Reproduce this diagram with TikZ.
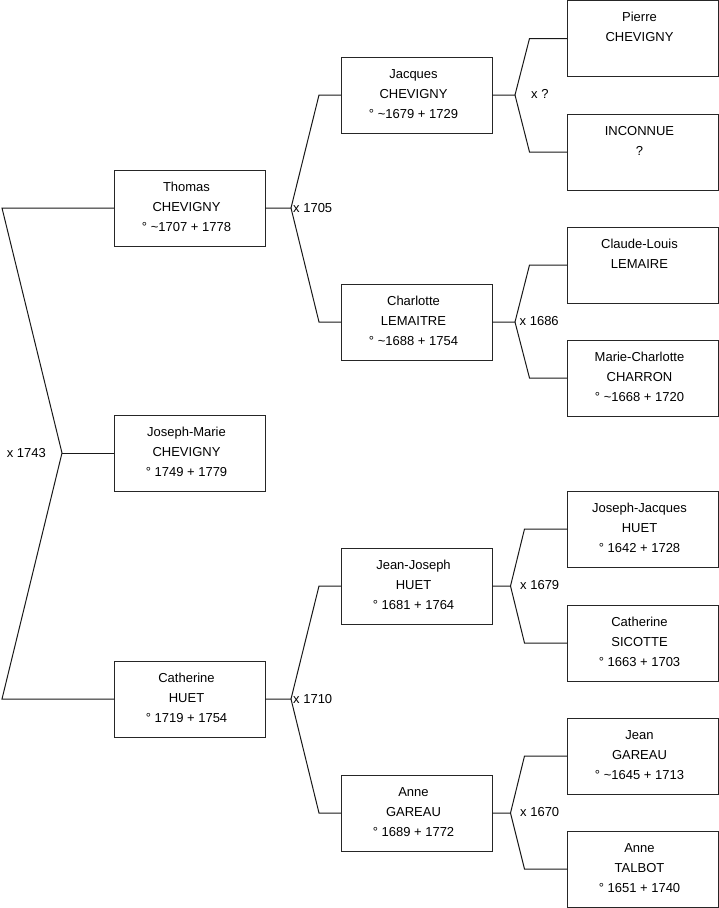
\documentclass[tikz,border=0pt]{standalone}
\usepackage{fontspec}
\setmainfont{Liberation Sans}
\begin{document}
\begin{tikzpicture}[x=1pt,y=-1pt,
  box/.style={draw=black!85, line width=1pt, anchor=north west, minimum width=151pt, minimum height=76pt, inner sep=0pt, outer sep=0pt},
  txt/.style={anchor=north, align=center, inner sep=0pt, font=\fontsize{13}{20}\selectfont},
  lbl/.style={inner sep=0pt, font=\fontsize{13}{15}\selectfont},
  link/.style={draw=black!90, line width=1pt}]
\useasboundingbox (0,0) rectangle (719,908);

% boxes
\node[box] (thomas) at (114,170) {};
\node[box] (josephmarie) at (114,415) {};
\node[box] (catherineh) at (114,661) {};
\node[box] (jacques) at (341,57) {};
\node[box] (charlotte) at (341,284) {};
\node[box] (jeanjoseph) at (341,548) {};
\node[box] (anneg) at (341,775) {};
\node[box] (pierre) at (567,0.5) {};
\node[box] (inconnue) at (567,114) {};
\node[box] (claude) at (567,227) {};
\node[box] (marie) at (567,340) {};
\node[box] (jj) at (567,491) {};
\node[box] (sicotte) at (567,605) {};
\node[box] (jean) at (567,718) {};
\node[box] (talbot) at (567,831) {};

% texts
\node[txt] (thomas-t) at ([xshift=-3pt,yshift=-12pt]thomas.north) {Thomas\\CHEVIGNY\\° \textasciitilde1707 + 1778};
\node[txt] (josephmarie-t) at ([xshift=-3pt,yshift=-12pt]josephmarie.north) {Joseph-Marie\\CHEVIGNY\\° 1749 + 1779};
\node[txt] (catherineh-t) at ([xshift=-3pt,yshift=-12pt]catherineh.north) {Catherine\\HUET\\° 1719 + 1754};
\node[txt] (jacques-t) at ([xshift=-3pt,yshift=-12pt]jacques.north) {Jacques\\CHEVIGNY\\° \textasciitilde1679 + 1729};
\node[txt] (charlotte-t) at ([xshift=-3pt,yshift=-12pt]charlotte.north) {Charlotte\\LEMAITRE\\° \textasciitilde1688 + 1754};
\node[txt] (jeanjoseph-t) at ([xshift=-3pt,yshift=-12pt]jeanjoseph.north) {Jean-Joseph\\HUET\\° 1681 + 1764};
\node[txt] (anneg-t) at ([xshift=-3pt,yshift=-12pt]anneg.north) {Anne\\GAREAU\\° 1689 + 1772};
\node[txt] (pierre-t) at ([xshift=-3pt,yshift=-11.5pt]pierre.north) {Pierre\\CHEVIGNY};
\node[txt] (inconnue-t) at ([xshift=-3pt,yshift=-12pt]inconnue.north) {INCONNUE\\?};
\node[txt] (claude-t) at ([xshift=-3pt,yshift=-12pt]claude.north) {Claude-Louis\\LEMAIRE};
\node[txt] (marie-t) at ([xshift=-3pt,yshift=-12pt]marie.north) {Marie-Charlotte\\CHARRON\\° \textasciitilde1668 + 1720};
\node[txt] (jj-t) at ([xshift=-3pt,yshift=-12pt]jj.north) {Joseph-Jacques\\HUET\\° 1642 + 1728};
\node[txt] (sicotte-t) at ([xshift=-3pt,yshift=-12pt]sicotte.north) {Catherine\\SICOTTE\\° 1663 + 1703};
\node[txt] (jean-t) at ([xshift=-3pt,yshift=-12pt]jean.north) {Jean\\GAREAU\\° \textasciitilde1645 + 1713};
\node[txt] (talbot-t) at ([xshift=-3pt,yshift=-12pt]talbot.north) {Anne\\TALBOT\\° 1651 + 1740};

% generation 1 connector
\coordinate (v0) at (62,453);
\coordinate (t0) at (2,208);
\coordinate (b0) at (2,699);
\draw[link] (thomas.west) -- (t0) -- (v0) -- (b0) -- (catherineh.west);
\draw[link] (v0) -- (josephmarie.west);
\node[lbl, anchor=east] (m1743) at (46,453) {x 1743};

% generation 2 connectors
\coordinate (v1) at (291,208);
\coordinate (v1a) at (319,95);
\coordinate (v1b) at (319,322);
\draw[link] (thomas.east) -- (v1) -- (v1a) -- (jacques.west);
\draw[link] (v1) -- (v1b) -- (charlotte.west);
\node[lbl, anchor=west] (m1705) at (293,208) {x 1705};

\coordinate (v2) at (291,699);
\coordinate (v2a) at (319,586);
\coordinate (v2b) at (319,813);
\draw[link] (catherineh.east) -- (v2) -- (v2a) -- (jeanjoseph.west);
\draw[link] (v2) -- (v2b) -- (anneg.west);
\node[lbl, anchor=west] (m1710) at (293,699) {x 1710};

% generation 3 connectors
\coordinate (v3) at (515,95);
\coordinate (v3a) at (529.5,38.5);
\coordinate (v3b) at (529.5,152);
\draw[link] (jacques.east) -- (v3) -- (v3a) -- (pierre.west);
\draw[link] (v3) -- (v3b) -- (inconnue.west);
\node[lbl, anchor=west] (mq) at (531,93.5) {x ?};

\coordinate (v4) at (515,322);
\coordinate (v4a) at (529.5,265);
\coordinate (v4b) at (529.5,378);
\draw[link] (charlotte.east) -- (v4) -- (v4a) -- (claude.west);
\draw[link] (v4) -- (v4b) -- (marie.west);
\node[lbl, anchor=west] (m1686) at (519.5,321) {x 1686};

\coordinate (v5) at (510.5,586);
\coordinate (v5a) at (524.5,529);
\coordinate (v5b) at (524.5,643);
\draw[link] (jeanjoseph.east) -- (v5) -- (v5a) -- (jj.west);
\draw[link] (v5) -- (v5b) -- (sicotte.west);
\node[lbl, anchor=west] (m1679) at (520,585) {x 1679};

\coordinate (v6) at (510.5,813);
\coordinate (v6a) at (524.5,756);
\coordinate (v6b) at (524.5,869);
\draw[link] (anneg.east) -- (v6) -- (v6a) -- (jean.west);
\draw[link] (v6) -- (v6b) -- (talbot.west);
\node[lbl, anchor=west] (m1670) at (520,812) {x 1670};
\end{tikzpicture}
\end{document}
